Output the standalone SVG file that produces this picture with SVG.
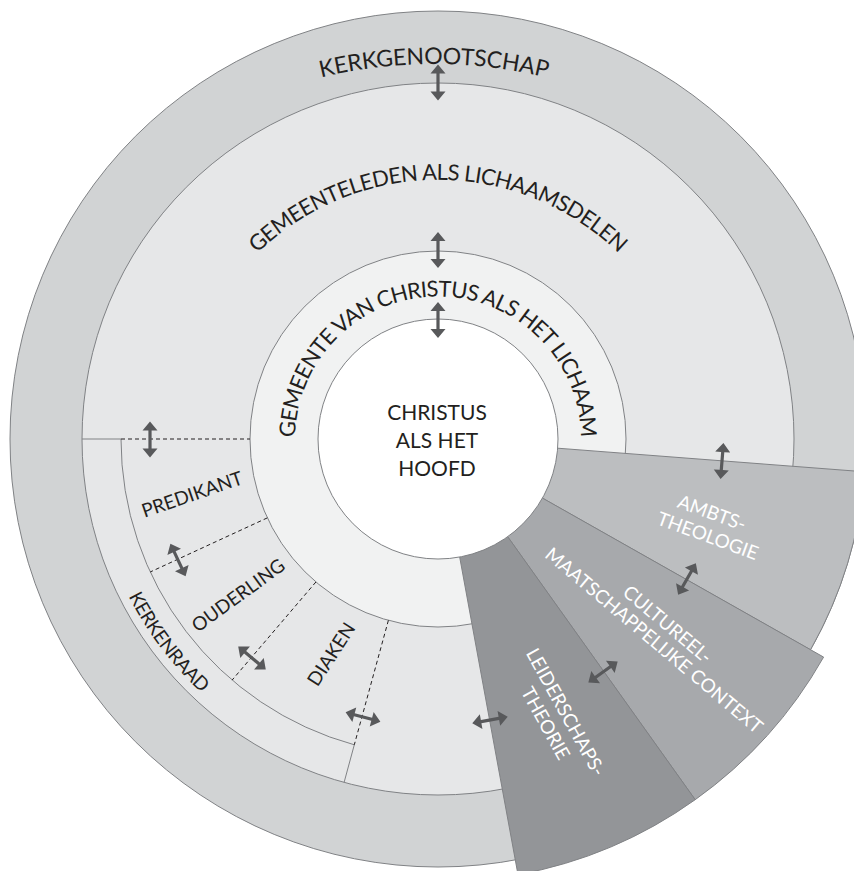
<svg xmlns="http://www.w3.org/2000/svg" xmlns:xlink="http://www.w3.org/1999/xlink" width="854" height="871" viewBox="0 0 854 871">
<style>
.ln{stroke:#808285;stroke-width:1;fill:none}
.dash{stroke:#231f20;stroke-width:1;stroke-dasharray:4 3;fill:none}
.t{font-family:Lato,'Open Sans','Liberation Sans',sans-serif;fill:#231f20}
.big{font-size:23px}
.mid{font-size:22px}
.ctr{font-size:21px}
.sm{font-size:19px}
.w{fill:#ffffff}
.ring{stroke:#808285;stroke-width:1}
</style>
<defs>
<path id="arr" d="M0,-18 L7.5,-9 L1.6,-9 L1.6,9 L7.5,9 L0,18 L-7.5,9 L-1.6,9 L-1.6,-9 L-7.5,-9 Z" fill="#58595b"/>
<path id="pKerk" d="M231.1,109 A480,480 0 0 1 636.9,109"/>
<path id="pLeden" d="M194.6,350.4 A259,259 0 0 1 681.4,350.4"/>
<path id="pGem" d="M295.5,451.5 A143,143 0 1 1 580.5,451.5"/>
<path id="pRaad" d="M93.6,481.3 A347,347 0 0 0 302.4,758.4"/>
</defs>

<rect width="854" height="871" fill="#ffffff"/>

<g id="kerkgenootschap">
<circle cx="438" cy="439" r="428" fill="#d1d3d4" class="ring"/>
<text class="t big"><textPath href="#pKerk" startOffset="50%" text-anchor="middle" textLength="228" lengthAdjust="spacing">KERKGENOOTSCHAP</textPath></text>
</g>

<g id="gemeenteleden">
<circle cx="438" cy="439" r="356" fill="#e6e7e8" class="ring"/>
<text class="t mid"><textPath href="#pLeden" startOffset="50%" text-anchor="middle" textLength="400" lengthAdjust="spacing">GEMEENTELEDEN ALS LICHAAMSDELEN</textPath></text>
</g>

<g id="kerkenraad">
<path class="ln" d="M82,439 L121,439 A317,317 0 0 0 354.3,744.8 L344.1,782.4"/>
<text class="t sm"><textPath href="#pRaad" startOffset="50%" text-anchor="middle" textLength="122" lengthAdjust="spacing">KERKENRAAD</textPath></text>
</g>

<g id="predikant">
<text class="t sm" text-anchor="middle" transform="translate(192,494) rotate(-19)" y="7">PREDIKANT</text>
</g>
<g id="ouderling">
<text class="t sm" text-anchor="middle" transform="translate(238,595) rotate(-36)" y="7">OUDERLING</text>
</g>
<g id="diaken">
<text class="t sm" text-anchor="middle" transform="translate(331,654) rotate(-57)" y="7">DIAKEN</text>
</g>

<g id="gemeente-van-christus">
<circle cx="438" cy="439" r="188" fill="#f1f2f2" class="ring"/>
<text class="t mid"><textPath href="#pGem" startOffset="50%" text-anchor="middle" textLength="445" lengthAdjust="spacing">GEMEENTE VAN CHRISTUS ALS HET LICHAAM</textPath></text>
</g>

<g id="ambtstheologie">
<path d="M438,439 L864.7,471.8 A428,428 0 0 1 810.5,649.8 Z" fill="#bcbec0" class="ring"/>
<text transform="translate(710,524) rotate(20)" class="t sm w" text-anchor="middle"><tspan x="-2" y="-4.5">AMBTS-</tspan><tspan x="2" y="18.5">THEOLOGIE</tspan></text>
</g>

<g id="cultureel-maatschappelijke-context">
<path d="M438,439 L823.6,657.1 A443,443 0 0 1 695.2,799.7 Z" fill="#a7a9ac" class="ring"/>
<text transform="translate(661,632) rotate(40)" class="t sm w" text-anchor="middle"><tspan x="0" y="-3.5">CULTUREEL-</tspan><tspan x="0" y="17.5">MAATSCHAPPELIJKE CONTEXT</tspan></text>
</g>

<g id="leiderschapstheorie">
<path d="M438,439 L695.2,799.7 A443,443 0 0 1 518,874.7 Z" fill="#939598" class="ring"/>
<text transform="translate(556,717.5) rotate(61)" class="t sm w" text-anchor="middle"><tspan x="0" y="-4.5">LEIDERSCHAPS-</tspan><tspan x="0" y="18.5">THEORIE</tspan></text>
</g>

<g id="christus">
<circle cx="438" cy="439" r="120" fill="#ffffff" class="ring"/>
<text class="t ctr" text-anchor="middle"><tspan x="437" y="420">CHRISTUS</tspan><tspan x="437" y="448">ALS HET</tspan><tspan x="437" y="476">HOOFD</tspan></text>
</g>

<g id="connectors">
<path class="dash" d="M121,439 L250,439"/>
<path class="dash" d="M267.3,517.9 L150.2,572"/>
<path class="dash" d="M315.9,582 L232.1,680.1"/>
<path class="dash" d="M388.4,620.3 L354.3,744.8"/>
<use href="#arr" transform="translate(438,82.5)"/>
<use href="#arr" transform="translate(438,250)"/>
<use href="#arr" transform="translate(438,320)"/>
<use href="#arr" transform="translate(150,439.5)"/>
<use href="#arr" transform="translate(178,560) rotate(-25)"/>
<use href="#arr" transform="translate(252,658) rotate(-50)"/>
<use href="#arr" transform="translate(363,717) rotate(-75)"/>
<use href="#arr" transform="translate(490,720) rotate(-100)"/>
<use href="#arr" transform="translate(603,672) rotate(54.5)"/>
<use href="#arr" transform="translate(687,579) rotate(29.5)"/>
<use href="#arr" transform="translate(722,461) rotate(4.5)"/>
</g>
</svg>
